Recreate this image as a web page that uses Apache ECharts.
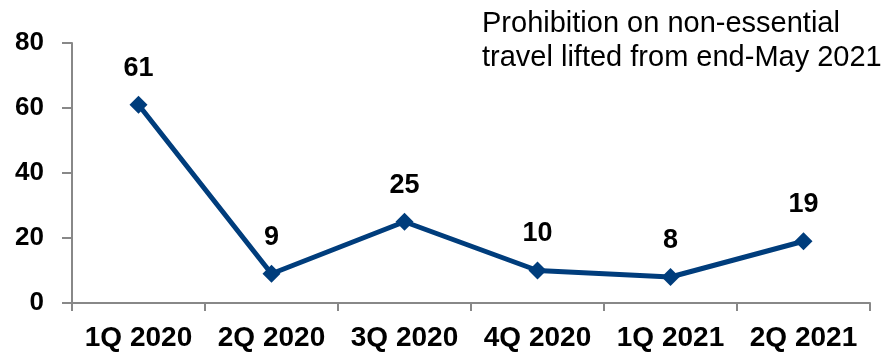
<!DOCTYPE html>
<html><head><meta charset="utf-8">
<script src="https://cdn.jsdelivr.net/npm/echarts@6/dist/echarts.min.js"></script>
<style>html,body{margin:0;padding:0;background:#fff}#c{width:885px;height:352px}</style>
</head><body><div id="c"></div>
<script>
const categories = ['1Q 2020','2Q 2020','3Q 2020','4Q 2020','1Q 2021','2Q 2021'];
const values = [61, 9, 25, 10, 8, 19];
const annotationLines = ['Prohibition on non-essential', 'travel lifted from end-May 2021'];
const yTicks = [0, 20, 40, 60, 80];

const chart = echarts.init(document.getElementById('c'));
const FONT = '"Liberation Sans", Arial, sans-serif';
chart.setOption({
  animation: false,
  grid: {left: 72, right: 15, top: 43, bottom: 47},
  graphic: [{
    type: 'text', left: 482, top: 7,
    style: {text: annotationLines.join('\n'), font: 'normal 29px ' + FONT, fill: '#000', lineHeight: 34}
  }],
  xAxis: {
    type: 'category', data: categories, boundaryGap: true,
    axisLine: {lineStyle: {color: '#888', width: 2}},
    axisTick: {show: true, interval: 0, length: 8, lineStyle: {color: '#888', width: 2}},
    axisLabel: {interval: 0, hideOverlap: false, color: '#000', fontFamily: FONT, fontWeight: 'bold', fontSize: 28, margin: 21}
  },
  yAxis: {
    type: 'value', min: yTicks[0], max: yTicks[yTicks.length-1], interval: 20,
    splitLine: {show: false},
    axisLine: {show: true, lineStyle: {color: '#888', width: 2}},
    axisTick: {show: true, length: 10, lineStyle: {color: '#888', width: 2}},
    axisLabel: {color: '#000', fontFamily: FONT, fontWeight: 'bold', fontSize: 26, margin: 28}
  },
  series: [{
    type: 'line', data: values,
    lineStyle: {color: '#003D7C', width: 5},
    itemStyle: {color: '#003D7C'},
    symbol: 'diamond', symbolSize: 18,
    label: {show: true, position: 'top', distance: 14, color: '#000', fontFamily: FONT, fontWeight: 'bold', fontSize: 27}
  }]
});
</script></body></html>
